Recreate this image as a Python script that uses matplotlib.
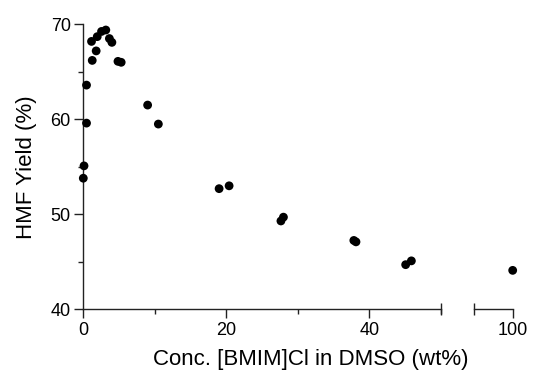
import numpy as np
import matplotlib.pyplot as plt
from matplotlib.transforms import blended_transform_factory

plt.rcParams['font.family'] = ['Liberation Sans', 'DejaVu Sans']

# BMIM Cl concentration (wt%) and HMF yield (%)
conc = [0.0, 0.1, 0.45, 0.45, 1.25, 1.15, 1.8, 1.95, 2.55, 3.15, 3.65, 4.0,
        4.85, 5.3, 9.0, 10.5, 19.0, 20.4, 27.65, 28.0, 37.85, 38.15, 45.1, 45.9, 100.0]
hmf_yield = [53.8, 55.1, 59.6, 63.6, 66.2, 68.2, 67.2, 68.7, 69.25, 69.4, 68.5, 68.1,
             66.1, 66.0, 61.5, 59.5, 52.7, 53.0, 49.3, 49.7, 47.25, 47.1, 44.7, 45.1, 44.1]

left_range = (0, 50)
right_range = (94.6, 100)
y_range = (40, 70)
left_ticks = [0, 20, 40]
left_minor = [10, 30, 50]
right_ticks = [100]
y_ticks = [40, 50, 60, 70]
y_minor = [45, 55, 65]

x = np.array(conc)
y = np.array(hmf_yield)

fig = plt.figure(figsize=(5.35, 3.78), dpi=100)
ax1 = fig.add_axes([0.1557, 0.1817, 0.668, 0.754])
ax2 = fig.add_axes([0.886, 0.1817, 0.0723, 0.754], sharey=ax1)

for ax, xr in ((ax1, left_range), (ax2, right_range)):
    keep = (x >= xr[0]) & (x <= xr[1])
    ax.scatter(x[keep], y[keep], s=40, color='black', edgecolors='none', clip_on=False, zorder=3)
    ax.set_xlim(*xr)
    ax.set_ylim(*y_range)
    ax.spines['top'].set_visible(False)
    ax.spines['right'].set_visible(False)
    for sp in ax.spines.values():
        sp.set_linewidth(1.0)
        sp.set_color('#222222')
    ax.tick_params(axis='both', which='major', length=6.5, width=1.0, labelsize=13,
                   color='#222222', pad=2.5)
    ax.tick_params(axis='both', which='minor', length=3.5, width=1.0, color='#222222')

ax1.set_xticks(left_ticks)
ax1.set_xticks(left_minor, minor=True)
ax1.set_yticks(y_ticks)
ax1.set_yticks(y_minor, minor=True)

ax2.spines['left'].set_visible(False)
ax2.set_xticks(right_ticks)
ax2.tick_params(axis='y', which='both', left=False, labelleft=False)

# caps at the axis break
tr1 = blended_transform_factory(ax1.transData, ax1.transAxes)
tr2 = blended_transform_factory(ax2.transData, ax2.transAxes)
ax1.plot([left_range[1]], [0], marker='|', markersize=9, mew=1.0, color='#222222',
         transform=tr1, clip_on=False)
ax2.plot([right_range[0]], [0], marker='|', markersize=9, mew=1.0, color='#222222',
         transform=tr2, clip_on=False)

ax1.set_ylabel('HMF Yield (%)', fontsize=16, labelpad=10)
fig.text(0.58, 0.035, 'Conc. [BMIM]Cl in DMSO (wt%)', fontsize=16, ha='center', va='baseline')

fig.savefig('out.png', dpi=100)
